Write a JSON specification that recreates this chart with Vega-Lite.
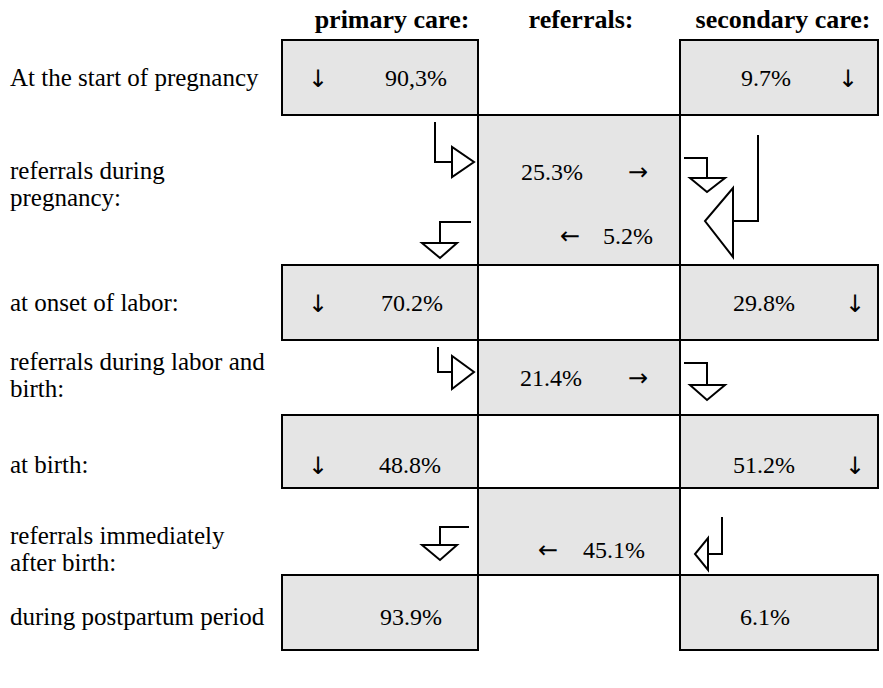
{
  "$schema": "https://vega.github.io/schema/vega-lite/v6.json",
  "width": 883,
  "height": 688,
  "padding": 0,
  "autosize": "none",
  "background": "white",
  "config": {"view": {"stroke": null}},
  "datasets": {
    "boxes": [
      {"row": 1, "col": "primary", "x0": 282, "x1": 478, "y0": 40, "y1": 115},
      {"row": 1, "col": "secondary", "x0": 680, "x1": 878, "y0": 40, "y1": 115},
      {"row": 2, "col": "referrals", "x0": 478, "x1": 680, "y0": 115, "y1": 265},
      {"row": 3, "col": "primary", "x0": 282, "x1": 478, "y0": 265, "y1": 340},
      {"row": 3, "col": "secondary", "x0": 680, "x1": 878, "y0": 265, "y1": 340},
      {"row": 4, "col": "referrals", "x0": 478, "x1": 680, "y0": 340, "y1": 415},
      {"row": 5, "col": "primary", "x0": 282, "x1": 478, "y0": 415, "y1": 488},
      {"row": 5, "col": "secondary", "x0": 680, "x1": 878, "y0": 415, "y1": 488},
      {"row": 6, "col": "referrals", "x0": 478, "x1": 680, "y0": 488, "y1": 575},
      {"row": 7, "col": "primary", "x0": 282, "x1": 478, "y0": 575, "y1": 650},
      {"row": 7, "col": "secondary", "x0": 680, "x1": 878, "y0": 575, "y1": 650}
    ],
    "arrows": [
      {"arrow": "A", "i": 1, "x": 435, "y": 122},
      {"arrow": "A", "i": 2, "x": 435, "y": 162},
      {"arrow": "A", "i": 3, "x": 452, "y": 162},
      {"arrow": "A", "i": 4, "x": 452, "y": 147},
      {"arrow": "A", "i": 5, "x": 474, "y": 162},
      {"arrow": "A", "i": 6, "x": 452, "y": 177},
      {"arrow": "A", "i": 7, "x": 452, "y": 162},
      {"arrow": "B", "i": 1, "x": 471, "y": 222},
      {"arrow": "B", "i": 2, "x": 440, "y": 222},
      {"arrow": "B", "i": 3, "x": 440, "y": 243},
      {"arrow": "B", "i": 4, "x": 422, "y": 243},
      {"arrow": "B", "i": 5, "x": 440, "y": 258},
      {"arrow": "B", "i": 6, "x": 457, "y": 243},
      {"arrow": "B", "i": 7, "x": 440, "y": 243},
      {"arrow": "C", "i": 1, "x": 684, "y": 158},
      {"arrow": "C", "i": 2, "x": 707, "y": 158},
      {"arrow": "C", "i": 3, "x": 707, "y": 178},
      {"arrow": "C", "i": 4, "x": 690, "y": 178},
      {"arrow": "C", "i": 5, "x": 707, "y": 192},
      {"arrow": "C", "i": 6, "x": 725, "y": 178},
      {"arrow": "C", "i": 7, "x": 707, "y": 178},
      {"arrow": "D", "i": 1, "x": 758, "y": 135},
      {"arrow": "D", "i": 2, "x": 758, "y": 221},
      {"arrow": "D", "i": 3, "x": 733, "y": 221},
      {"arrow": "D", "i": 4, "x": 733, "y": 188},
      {"arrow": "D", "i": 5, "x": 705, "y": 221},
      {"arrow": "D", "i": 6, "x": 733, "y": 257},
      {"arrow": "D", "i": 7, "x": 733, "y": 221},
      {"arrow": "E", "i": 1, "x": 438, "y": 347},
      {"arrow": "E", "i": 2, "x": 438, "y": 372},
      {"arrow": "E", "i": 3, "x": 452, "y": 372},
      {"arrow": "E", "i": 4, "x": 452, "y": 356},
      {"arrow": "E", "i": 5, "x": 474, "y": 372},
      {"arrow": "E", "i": 6, "x": 452, "y": 389},
      {"arrow": "E", "i": 7, "x": 452, "y": 372},
      {"arrow": "F", "i": 1, "x": 684, "y": 363},
      {"arrow": "F", "i": 2, "x": 707, "y": 363},
      {"arrow": "F", "i": 3, "x": 707, "y": 385},
      {"arrow": "F", "i": 4, "x": 690, "y": 385},
      {"arrow": "F", "i": 5, "x": 707, "y": 400},
      {"arrow": "F", "i": 6, "x": 725, "y": 385},
      {"arrow": "F", "i": 7, "x": 707, "y": 385},
      {"arrow": "G", "i": 1, "x": 469, "y": 527},
      {"arrow": "G", "i": 2, "x": 440, "y": 527},
      {"arrow": "G", "i": 3, "x": 440, "y": 545},
      {"arrow": "G", "i": 4, "x": 422, "y": 545},
      {"arrow": "G", "i": 5, "x": 440, "y": 560},
      {"arrow": "G", "i": 6, "x": 457, "y": 545},
      {"arrow": "G", "i": 7, "x": 440, "y": 545},
      {"arrow": "H", "i": 1, "x": 722, "y": 517},
      {"arrow": "H", "i": 2, "x": 722, "y": 554},
      {"arrow": "H", "i": 3, "x": 708, "y": 554},
      {"arrow": "H", "i": 4, "x": 708, "y": 538},
      {"arrow": "H", "i": 5, "x": 695, "y": 554},
      {"arrow": "H", "i": 6, "x": 708, "y": 570},
      {"arrow": "H", "i": 7, "x": 708, "y": 554}
    ],
    "headers": [
      {"label": "primary care:", "x": 392, "y": 28},
      {"label": "referrals:", "x": 581, "y": 28},
      {"label": "secondary care:", "x": 783, "y": 28}
    ],
    "rowlabels": [
      {"label": "At the start of pregnancy", "x": 10, "y": 86},
      {"label": "referrals during", "x": 10, "y": 179},
      {"label": "pregnancy:", "x": 10, "y": 206},
      {"label": "at onset of labor:", "x": 10, "y": 311},
      {"label": "referrals during labor and", "x": 10, "y": 370},
      {"label": "birth:", "x": 10, "y": 397},
      {"label": "at birth:", "x": 10, "y": 473},
      {"label": "referrals immediately", "x": 10, "y": 544},
      {"label": "after birth:", "x": 10, "y": 571},
      {"label": "during postpartum period", "x": 10, "y": 625}
    ],
    "values": [
      {"label": "90,3%", "x": 416, "y": 86},
      {"label": "9.7%", "x": 766, "y": 86},
      {"label": "25.3%", "x": 552, "y": 180},
      {"label": "5.2%", "x": 628, "y": 244},
      {"label": "70.2%", "x": 412, "y": 311},
      {"label": "29.8%", "x": 764, "y": 311},
      {"label": "21.4%", "x": 551, "y": 386},
      {"label": "48.8%", "x": 410, "y": 473},
      {"label": "51.2%", "x": 764, "y": 473},
      {"label": "45.1%", "x": 614, "y": 558},
      {"label": "93.9%", "x": 411, "y": 625},
      {"label": "6.1%", "x": 765, "y": 625}
    ],
    "glyphs": [
      {"label": "↓", "x": 318, "y": 87},
      {"label": "↓", "x": 848, "y": 87},
      {"label": "→", "x": 638, "y": 180},
      {"label": "←", "x": 570, "y": 244},
      {"label": "↓", "x": 318, "y": 312},
      {"label": "↓", "x": 855, "y": 312},
      {"label": "→", "x": 638, "y": 386},
      {"label": "↓", "x": 318, "y": 474},
      {"label": "↓", "x": 855, "y": 474},
      {"label": "←", "x": 548, "y": 558}
    ]
  },
  "layer": [
    {
      "data": {"name": "boxes"},
      "mark": {"type": "rect", "fill": "#e5e5e5", "stroke": "black", "strokeWidth": 2},
      "encoding": {
        "x": {"field": "x0", "type": "quantitative", "scale": {"domain": [0, 883], "nice": false, "zero": false}, "axis": null},
        "x2": {"field": "x1"},
        "y": {"field": "y0", "type": "quantitative", "scale": {"domain": [0, 688], "nice": false, "zero": false, "reverse": true}, "axis": null},
        "y2": {"field": "y1"}
      }
    },
    {
      "data": {"name": "arrows"},
      "mark": {"type": "line", "stroke": "black", "strokeWidth": 2, "strokeJoin": "miter", "clip": false},
      "encoding": {
        "x": {"field": "x", "type": "quantitative"},
        "y": {"field": "y", "type": "quantitative"},
        "detail": {"field": "arrow"},
        "order": {"field": "i"}
      }
    },
    {
      "data": {"name": "headers"},
      "mark": {"type": "text", "font": "Liberation Serif", "fontSize": 26, "fontWeight": "bold", "align": "center", "baseline": "alphabetic", "color": "black"},
      "encoding": {
        "x": {"field": "x", "type": "quantitative"},
        "y": {"field": "y", "type": "quantitative"},
        "text": {"field": "label"}
      }
    },
    {
      "data": {"name": "rowlabels"},
      "mark": {"type": "text", "font": "Liberation Serif", "fontSize": 25, "align": "left", "baseline": "alphabetic", "color": "black"},
      "encoding": {
        "x": {"field": "x", "type": "quantitative"},
        "y": {"field": "y", "type": "quantitative"},
        "text": {"field": "label"}
      }
    },
    {
      "data": {"name": "values"},
      "mark": {"type": "text", "font": "Liberation Serif", "fontSize": 24, "align": "center", "baseline": "alphabetic", "color": "black"},
      "encoding": {
        "x": {"field": "x", "type": "quantitative"},
        "y": {"field": "y", "type": "quantitative"},
        "text": {"field": "label"}
      }
    },
    {
      "data": {"name": "glyphs"},
      "mark": {"type": "text", "font": "DejaVu Sans", "fontSize": 24, "align": "center", "baseline": "alphabetic", "color": "black"},
      "encoding": {
        "x": {"field": "x", "type": "quantitative"},
        "y": {"field": "y", "type": "quantitative"},
        "text": {"field": "label"}
      }
    }
  ]
}
